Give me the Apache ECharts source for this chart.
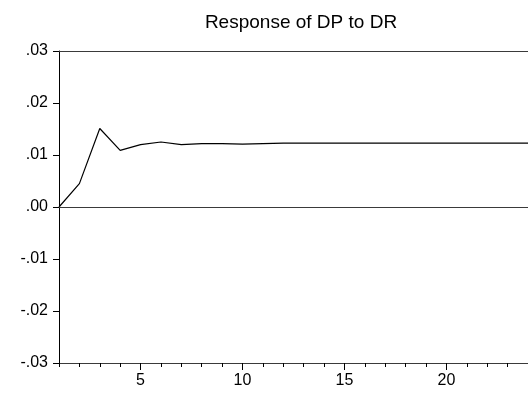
<!DOCTYPE html>
<html>
<head>
<meta charset="utf-8">
<script src="https://cdn.jsdelivr.net/npm/echarts@6/dist/echarts.min.js"></script>
<style>
  html, body { margin: 0; padding: 0; background: #ffffff; }
  #chart { width: 528px; height: 393px; }
</style>
</head>
<body>
<div id="chart"></div>
<script>
// Impulse response of DP to a shock in DR, periods 1..24
const titleText = 'Response of DP to DR';
const periods = [1, 2, 3, 4, 5, 6, 7, 8, 9, 10, 11, 12, 13, 14, 15, 16, 17, 18, 19, 20, 21, 22, 23, 24];
const response = [0.0000, 0.0045, 0.0151, 0.0109, 0.0120, 0.0125, 0.0120, 0.0122, 0.0122, 0.0121, 0.0122, 0.0123,
                  0.0123, 0.0123, 0.0123, 0.0123, 0.0123, 0.0123, 0.0123, 0.0123, 0.0123, 0.0123, 0.0123, 0.0123];
const xMajorTicks = [5, 10, 15, 20];
const yTicks = [-0.03, -0.02, -0.01, 0.00, 0.01, 0.02, 0.03];

// EViews-style number format: ".03", "-.01", ".00"
function fmt(v) {
  const s = Math.abs(v).toFixed(2).replace(/^0/, '');
  return (v < -1e-9 ? '-' : '') + s;
}

const font = 'Liberation Sans, Arial, sans-serif';
const ink = '#000000';
const frame = '#3a3a3a';

const chart = echarts.init(document.getElementById('chart'), null, { renderer: 'canvas' });
chart.setOption({
  animation: false,
  backgroundColor: '#ffffff',
  title: {
    text: titleText,
    left: 296,
    textAlign: 'center',
    top: 8,
    textStyle: { fontFamily: font, fontSize: 19, fontWeight: 'normal', color: ink }
  },
  grid: { left: 59, right: -6, top: 51, bottom: 30, containLabel: false },
  xAxis: [
    {
      // minor ticks at every period
      type: 'value', min: 1, max: 24, gridIndex: 0, position: 'bottom',
      axisLine: { show: true, onZero: false, lineStyle: { color: frame, width: 1 } },
      axisTick: { show: true, customValues: periods, length: 4, lineStyle: { color: ink, width: 1 } },
      axisLabel: { show: false },
      splitLine: { show: false }
    },
    {
      // major ticks and labels every 5 periods
      type: 'value', min: 1, max: 24, gridIndex: 0, position: 'bottom',
      axisLine: { show: false, onZero: false },
      axisTick: { show: true, customValues: xMajorTicks, length: 7, lineStyle: { color: ink, width: 1 } },
      axisLabel: { show: true, customValues: xMajorTicks, margin: 10, fontFamily: font, fontSize: 16, color: ink },
      splitLine: { show: false }
    },
    {
      // top frame line
      type: 'value', min: 1, max: 24, gridIndex: 0, position: 'top',
      axisLine: { show: true, onZero: false, lineStyle: { color: frame, width: 1 } },
      axisTick: { show: false }, axisLabel: { show: false }, splitLine: { show: false }
    }
  ],
  yAxis: {
    type: 'value', min: -0.03, max: 0.03, interval: 0.01,
    axisLine: { show: true, onZero: false, lineStyle: { color: ink, width: 1 } },
    axisTick: { show: true, customValues: yTicks, length: 6, lineStyle: { color: ink, width: 1 } },
    axisLabel: { show: true, customValues: yTicks, margin: 11, fontFamily: font, fontSize: 16, color: ink, formatter: fmt },
    splitLine: { show: false }
  },
  series: [{
    type: 'line',
    xAxisIndex: 0,
    data: periods.map((p, i) => [p, response[i]]),
    symbol: 'none',
    lineStyle: { color: ink, width: 1.2 },
    markLine: {
      silent: true, symbol: 'none', label: { show: false },
      lineStyle: { color: frame, type: 'solid', width: 1 },
      data: [{ yAxis: 0 }]
    }
  }]
});
</script>
</body>
</html>
